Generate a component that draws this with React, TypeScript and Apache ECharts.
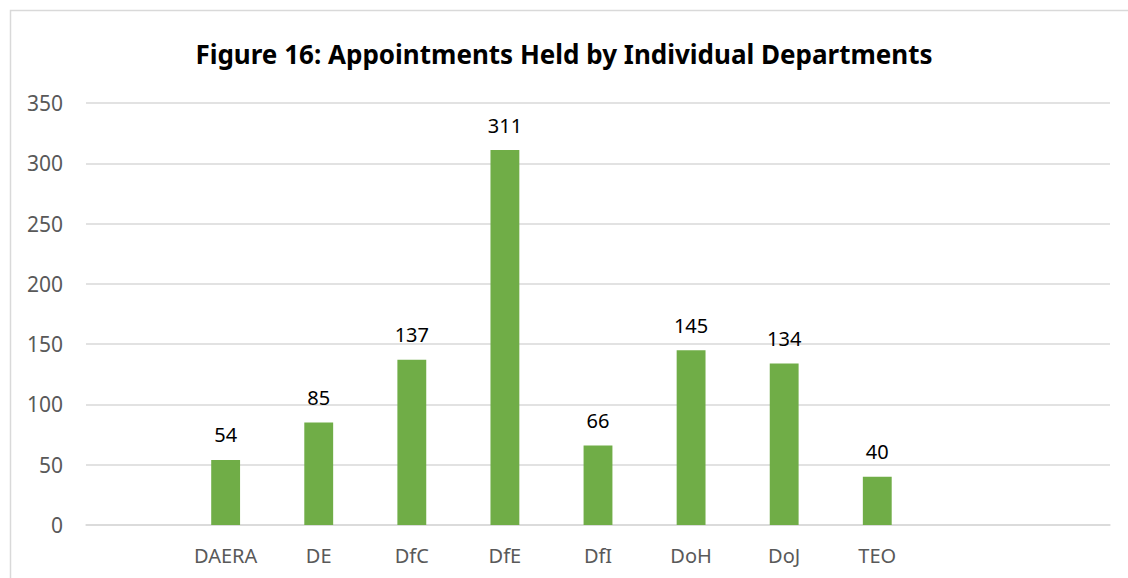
import React, { useEffect, useRef } from "react";
import * as echarts from "echarts";

const titleText = "Figure 16: Appointments Held by Individual Departments";
const departments = ["DAERA", "DE", "DfC", "DfE", "DfI", "DoH", "DoJ", "TEO"];
const appointments = [54, 85, 137, 311, 66, 145, 134, 40];
const leadingBlanks = 1;
const trailingBlanks = 2;
const yTicks = { min: 0, max: 350, interval: 50 };

export default function App() {
  const ref = useRef<HTMLDivElement>(null);
  useEffect(() => {
    if (!ref.current) return;
    const chart = echarts.init(ref.current, null, { renderer: "svg" });
    const cats: string[] = [];
    const vals: (number | null)[] = [];
    for (let i = 0; i < leadingBlanks; i++) { cats.push(" ".repeat(i + 1)); vals.push(null); }
    departments.forEach((d, i) => { cats.push(d); vals.push(appointments[i]); });
    for (let i = 0; i < trailingBlanks; i++) { cats.push(" ".repeat(i + 5)); vals.push(null); }
    const font = "'Noto Sans', 'Open Sans', sans-serif";
    chart.setOption({
      animation: false,
      backgroundColor: "#ffffff",
      textStyle: { fontFamily: font },
      title: {
        text: titleText,
        left: "center",
        top: 36,
        textStyle: { fontFamily: font, fontWeight: "bold", fontSize: 26, color: "#000000" },
      },
      graphic: [
        {
          type: "rect",
          shape: { x: 10.5, y: 10.5, width: 1200, height: 700 },
          style: { fill: "none", stroke: "#d9d9d9", lineWidth: 1.5 },
          silent: true,
        },
      ],
      grid: { left: 86, right: 18, top: 103, bottom: 53, containLabel: false },
      xAxis: {
        type: "category",
        data: cats,
        axisLine: { show: true, lineStyle: { color: "#d9d9d9", width: 1.5 } },
        axisTick: { show: false },
        axisLabel: { color: "#595959", fontSize: 20, margin: 20, fontFamily: font, interval: 0 },
      },
      yAxis: {
        type: "value",
        min: yTicks.min,
        max: yTicks.max,
        interval: yTicks.interval,
        axisLine: { show: false },
        axisTick: { show: false },
        axisLabel: { color: "#595959", fontSize: 21, margin: 23, fontFamily: font },
        splitLine: { lineStyle: { color: "#d9d9d9", width: 1.5 } },
      },
      series: [
        {
          type: "bar",
          data: vals,
          barWidth: "31%",
          itemStyle: { color: "#70ad47" },
          label: {
            show: true,
            position: "top",
            distance: 15,
            color: "#000000",
            fontSize: 20,
            fontFamily: font,
          },
        },
      ],
    });
    return () => chart.dispose();
  }, []);
  return (
    <div
      ref={ref}
      style={{ position: "fixed", left: 0, top: 0, width: 1128, height: 578 }}
    />
  );
}
